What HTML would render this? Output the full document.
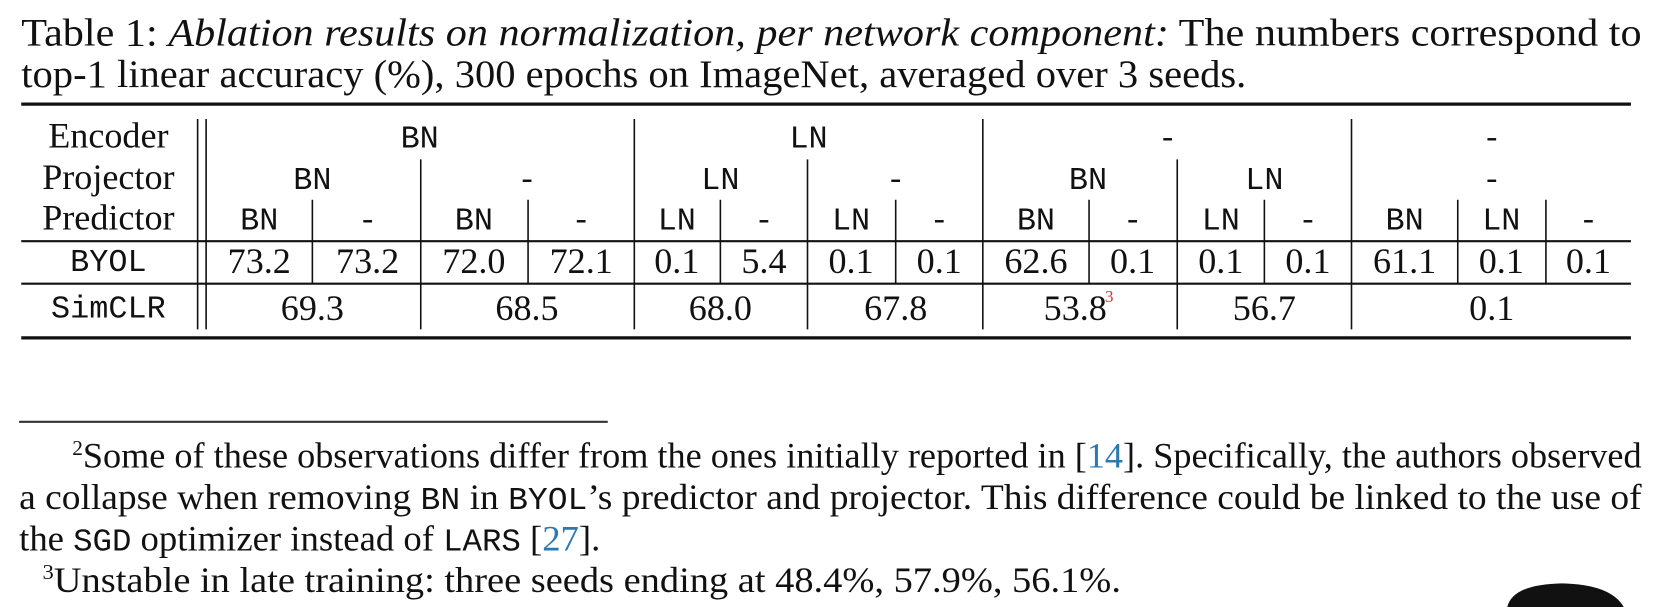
<!DOCTYPE html>
<html><head><meta charset="utf-8"><style>
html,body{margin:0;padding:0;background:#fff;width:1666px;height:607px;overflow:hidden}
svg{display:block}
.s{font-family:"Liberation Serif",serif;font-size:34px;fill:#111}
.c{font-family:"Liberation Serif",serif;font-size:37px;fill:#111}
.t{font-family:"Liberation Serif",serif;font-size:34px;fill:#111}
.m{font-family:"Liberation Mono",monospace;font-size:30px;fill:#111}
.i{font-style:italic}
</style></head><body>
<svg width="1666" height="607" viewBox="0 0 1666 607" overflow="hidden">
<g transform="scale(1.0625)">
<g>
<text class="c" x="20" y="43" textLength="1525" lengthAdjust="spacingAndGlyphs">Table 1: <tspan class="i">Ablation results on normalization, per network component:</tspan> The numbers correspond to</text>
<text class="c" x="20" y="82" textLength="1153" lengthAdjust="spacingAndGlyphs">top-1 linear accuracy (%), 300 epochs on ImageNet, averaged over 3 seeds.</text>
</g>
<g stroke="#111">
<line x1="20" y1="98" x2="1535" y2="98" stroke-width="3"/>
<line x1="20" y1="227" x2="1535" y2="227" stroke-width="2"/>
<line x1="20" y1="267" x2="1535" y2="267" stroke-width="2"/>
<line x1="20" y1="318" x2="1535" y2="318" stroke-width="3"/>
<line x1="186" y1="112" x2="186" y2="310" stroke-width="1.5"/>
<line x1="194" y1="112" x2="194" y2="310" stroke-width="1.5"/>
<line x1="597" y1="112" x2="597" y2="310" stroke-width="1.5"/>
<line x1="925" y1="112" x2="925" y2="310" stroke-width="1.5"/>
<line x1="1272" y1="112" x2="1272" y2="310" stroke-width="1.5"/>
<line x1="396" y1="150" x2="396" y2="310" stroke-width="1.5"/>
<line x1="760" y1="150" x2="760" y2="310" stroke-width="1.5"/>
<line x1="1108" y1="150" x2="1108" y2="310" stroke-width="1.5"/>
<line x1="294" y1="188" x2="294" y2="267" stroke-width="1.5"/>
<line x1="497" y1="188" x2="497" y2="267" stroke-width="1.5"/>
<line x1="678" y1="188" x2="678" y2="267" stroke-width="1.5"/>
<line x1="843" y1="188" x2="843" y2="267" stroke-width="1.5"/>
<line x1="1025" y1="188" x2="1025" y2="267" stroke-width="1.5"/>
<line x1="1190" y1="188" x2="1190" y2="267" stroke-width="1.5"/>
<line x1="1372" y1="188" x2="1372" y2="267" stroke-width="1.5"/>
<line x1="1455" y1="188" x2="1455" y2="267" stroke-width="1.5"/>
</g>
<g text-anchor="middle">
<text class="s" x="102" y="139">Encoder</text>
<text class="s" x="102" y="178">Projector</text>
<text class="s" x="102" y="216">Predictor</text>
<text class="m" x="102" y="255">BYOL</text>
<text class="m" x="102" y="299">SimCLR</text>
</g>
<g text-anchor="middle">
<text class="m" x="395" y="139">BN</text>
<text class="m" x="761" y="139">LN</text>
<text class="m" x="1099" y="139">-</text>
<text class="m" x="1404" y="139">-</text>
</g>
<g text-anchor="middle">
<text class="m" x="294" y="178">BN</text>
<text class="m" x="496" y="178">-</text>
<text class="m" x="678" y="178">LN</text>
<text class="m" x="843" y="178">-</text>
<text class="m" x="1024" y="178">BN</text>
<text class="m" x="1190" y="178">LN</text>
<text class="m" x="1404" y="178">-</text>
</g>
<g text-anchor="middle">
<text class="m" x="244" y="216">BN</text>
<text class="m" x="346" y="216">-</text>
<text class="m" x="446" y="216">BN</text>
<text class="m" x="547" y="216">-</text>
<text class="m" x="637" y="216">LN</text>
<text class="m" x="719" y="216">-</text>
<text class="m" x="801" y="216">LN</text>
<text class="m" x="884" y="216">-</text>
<text class="m" x="975" y="216">BN</text>
<text class="m" x="1066" y="216">-</text>
<text class="m" x="1149" y="216">LN</text>
<text class="m" x="1231" y="216">-</text>
<text class="m" x="1322" y="216">BN</text>
<text class="m" x="1413" y="216">LN</text>
<text class="m" x="1495" y="216">-</text>
</g>
<g text-anchor="middle">
<text class="s" x="244" y="257">73.2</text>
<text class="s" x="346" y="257">73.2</text>
<text class="s" x="446" y="257">72.0</text>
<text class="s" x="547" y="257">72.1</text>
<text class="s" x="637" y="257">0.1</text>
<text class="s" x="719" y="257">5.4</text>
<text class="s" x="801" y="257">0.1</text>
<text class="s" x="884" y="257">0.1</text>
<text class="s" x="975" y="257">62.6</text>
<text class="s" x="1066" y="257">0.1</text>
<text class="s" x="1149" y="257">0.1</text>
<text class="s" x="1231" y="257">0.1</text>
<text class="s" x="1322" y="257">61.1</text>
<text class="s" x="1413" y="257">0.1</text>
<text class="s" x="1495" y="257">0.1</text>
</g>
<g text-anchor="middle">
<text class="s" x="294" y="301">69.3</text>
<text class="s" x="496" y="301">68.5</text>
<text class="s" x="678" y="301">68.0</text>
<text class="s" x="843" y="301">67.8</text>
<text class="s" x="1012" y="301">53.8</text>
<text x="1044" y="284" font-family="Liberation Serif,serif" font-size="16" fill="#c33">3</text>
<text class="s" x="1190" y="301">56.7</text>
<text class="s" x="1404" y="301">0.1</text>
</g>
<line x1="18" y1="397" x2="572" y2="397" stroke="#333" stroke-width="2"/>
<g>
<text class="t" x="68" y="440" textLength="1477" lengthAdjust="spacingAndGlyphs"><tspan font-size="20" dy="-12">2</tspan><tspan dy="12">Some of these observations differ from the ones initially reported in [</tspan><tspan fill="#2a7ab0">14</tspan>]. Specifically, the authors observed</text>
<text class="t" x="18" y="479" textLength="1527" lengthAdjust="spacingAndGlyphs">a collapse when removing <tspan class="m">BN</tspan> in <tspan class="m">BYOL</tspan>’s predictor and projector. This difference could be linked to the use of</text>
<text class="t" x="18" y="518" textLength="547" lengthAdjust="spacingAndGlyphs">the <tspan class="m">SGD</tspan> optimizer instead of <tspan class="m">LARS</tspan> [<tspan fill="#2a7ab0">27</tspan>].</text>
<text class="t" x="40" y="557" textLength="1015" lengthAdjust="spacingAndGlyphs"><tspan font-size="20" dy="-12">3</tspan><tspan dy="12">Unstable in late training: three seeds ending at 48.4%, 57.9%, 56.1%.</tspan></text>
</g>
<path d="M1418 575 Q1420 550 1470 549 Q1520 550 1530 575 Z" fill="#111"/>
</g>
</svg>
</body></html>
